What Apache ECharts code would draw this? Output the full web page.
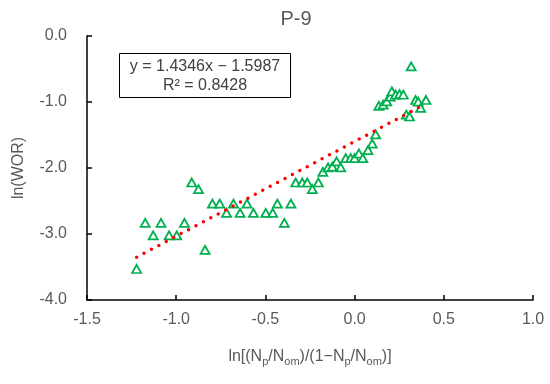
<!DOCTYPE html>
<html>
<head>
<meta charset="utf-8">
<script src="https://cdn.jsdelivr.net/npm/echarts@6/dist/echarts.min.js"></script>
<style>html,body{margin:0;padding:0;background:#fff;}#c{width:550px;height:384px;}</style>
</head>
<body>
<div id="c"></div>
<script>
const titleText = 'P-9';
const xTicks = [-1.5, -1.0, -0.5, 0.0, 0.5, 1.0];
const yTicks = [-4.0, -3.0, -2.0, -1.0, 0.0];
const xValues = [-1.222,-1.174,-1.129,-1.085,-1.040,-0.997,-0.954,-0.913,-0.875,-0.838,
  -0.797,-0.756,-0.718,-0.679,-0.642,-0.603,-0.567,-0.498,-0.459,-0.433,
  -0.394,-0.357,-0.330,-0.293,-0.265,-0.237,-0.203,-0.178,-0.149,-0.125,
  -0.101,-0.078,-0.050,-0.022,0.000,0.024,0.046,0.075,0.099,0.118,
  0.136,0.160,0.180,0.200,0.209,0.230,0.252,0.273,0.290,0.308,
  0.317,0.342,0.356,0.370,0.400];
const yValues = [-3.53,-2.83,-3.02,-2.83,-3.02,-3.02,-2.83,-2.22,-2.32,-3.24,
  -2.54,-2.54,-2.68,-2.54,-2.68,-2.54,-2.68,-2.68,-2.68,-2.54,
  -2.83,-2.54,-2.22,-2.22,-2.22,-2.32,-2.22,-2.06,-1.99,-1.98,
  -1.90,-1.99,-1.85,-1.85,-1.85,-1.78,-1.85,-1.73,-1.63,-1.49,
  -1.06,-1.04,-0.99,-0.92,-0.84,-0.89,-0.88,-0.89,-1.19,-1.22,
  -0.46,-0.97,-0.995,-1.09,-0.97];
const slope = 1.4346;
const intercept = -1.5987;
const eqText = 'y = 1.4346x − 1.5987';
const r2Text = 'R² = 0.8428';

const pts = xValues.map((x, i) => [x, yValues[i]]);
const xmin = Math.min(...xValues), xmax = Math.max(...xValues);
const trend = [[xmin, slope * xmin + intercept], [xmax, slope * xmax + intercept]];

const chart = echarts.init(document.getElementById('c'));
const font = 'Liberation Sans, Arial, sans-serif';
const grey = '#595959';
chart.setOption({
  animation: false,
  backgroundColor: '#fff',
  title: {text: titleText, left: 291, top: 4, textAlign: 'center',
    textStyle: {fontFamily: font, fontSize: 20, fontWeight: 'normal', color: grey}},
  grid: {left: 87, right: 17, top: 36, bottom: 84, outerBoundsMode: 'none'},
  xAxis: {
    type: 'value', min: xTicks[0], max: xTicks[xTicks.length-1], interval: 0.5,
    name: 'ln[(N{s|p}/N{s|om})/(1−N{s|p}/N{s|om})]',
    nameLocation: 'middle', nameGap: 47,
    nameTextStyle: {fontFamily: font, fontSize: 16, color: grey,
      rich: {s: {fontFamily: font, fontSize: 11, color: grey, padding: [9, 0, 0, 0]}}},
    axisLine: {onZero: false, lineStyle: {color: '#000', width: 1.5}},
    axisTick: {inside: true, length: 5, lineStyle: {color: '#000', width: 1.5}},
    axisLabel: {fontFamily: font, fontSize: 16, color: grey, margin: 12,
      formatter: v => v.toFixed(1)},
    splitLine: {show: false}
  },
  yAxis: {
    type: 'value', min: yTicks[0], max: yTicks[yTicks.length-1], interval: 1,
    name: 'ln(WOR)', nameLocation: 'middle', nameGap: 60,
    nameTextStyle: {fontFamily: font, fontSize: 16, color: grey},
    axisLine: {onZero: false, lineStyle: {color: '#000', width: 1.5}},
    axisTick: {inside: true, length: 5, lineStyle: {color: '#000', width: 1.5}},
    axisLabel: {fontFamily: font, fontSize: 16, color: grey, margin: 20,
      formatter: v => v.toFixed(1)},
    splitLine: {show: false}
  },
  graphic: [{
    type: 'group', left: 119, top: 53,
    children: [
      {type: 'rect', shape: {x: 0, y: 0, width: 171, height: 44},
        style: {fill: '#fff', stroke: '#000', lineWidth: 1}},
      {type: 'text', x: 85.5, y: 13, style: {text: eqText, fontFamily: font, fontSize: 16,
        fill: '#404040', align: 'center', verticalAlign: 'middle'}},
      {type: 'text', x: 85.5, y: 32, style: {text: r2Text, fontFamily: font, fontSize: 16,
        fill: '#404040', align: 'center', verticalAlign: 'middle'}}
    ]
  }],
  series: [
    {type: 'scatter', data: pts, symbol: 'triangle', symbolSize: [9, 8], z: 2,
      itemStyle: {color: '#fff', borderColor: '#00B050', borderWidth: 1.8, opacity: 1}},
    {type: 'line', data: trend, showSymbol: false, symbol: 'none', z: 3,
      lineStyle: {color: '#FF0000', width: 3.5, type: [0, 8.4], cap: 'round'}}
  ]
});
</script>
</body>
</html>
